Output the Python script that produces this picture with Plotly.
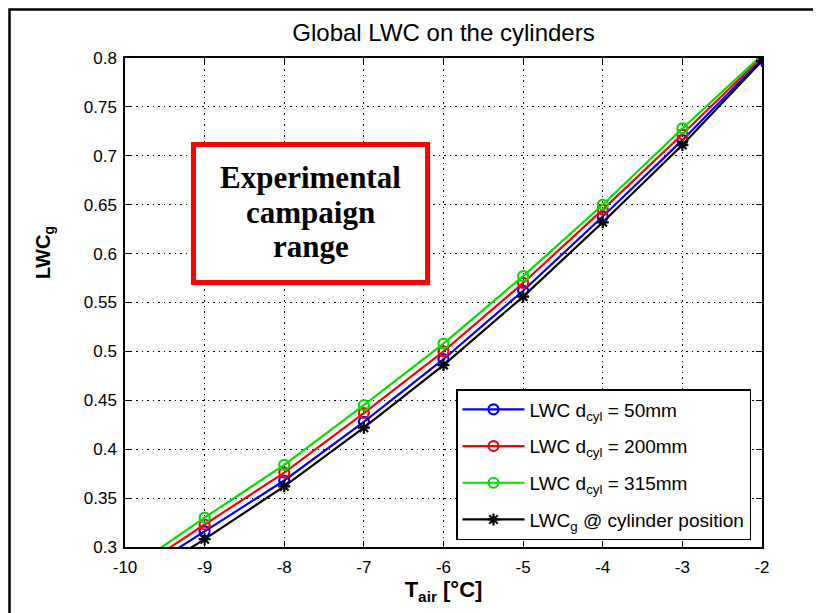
import plotly.graph_objects as go

T_air = [-10, -9, -8, -7, -6, -5, -4, -3, -2]
x_tick_labels = ["-10", "-9", "-8", "-7", "-6", "-5", "-4", "-3", "-2"]
lwc_50 = [0.264, 0.316, 0.368, 0.428, 0.492, 0.562, 0.638, 0.716, 0.799]
lwc_200 = [0.269, 0.323, 0.376, 0.437, 0.500, 0.570, 0.645, 0.722, 0.801]
lwc_315 = [0.274, 0.330, 0.384, 0.445, 0.508, 0.577, 0.650, 0.728, 0.803]
lwc_g = [0.257, 0.308, 0.362, 0.422, 0.486, 0.556, 0.632, 0.711, 0.797]

series = [
    ("LWC d<sub>cyl</sub> = 50mm", lwc_50, "#0000ff", "circle-open"),
    ("LWC d<sub>cyl</sub> = 200mm", lwc_200, "#ff0000", "circle-open"),
    ("LWC d<sub>cyl</sub> = 315mm", lwc_315, "#00e000", "circle-open"),
    ("LWC<sub>g</sub> @ cylinder position", lwc_g, "#000000", "asterisk-open"),
]

box_lines = ["Experimental", "campaign", "range"]

fig = go.Figure()
for i, (name, vals, col, sym) in enumerate(series):
    fig.add_trace(go.Scatter(
        x=T_air, y=vals, name=name, mode="lines+markers", legendgroup=f"g{i}",
        line=dict(color=col, width=2.2),
        marker=dict(symbol=sym, size=10, color=col, line=dict(color=col, width=2.2)),
        cliponaxis=True,
    ))

L, R, T, B = 117, 67, 50, 74
W, H = 821, 613
pw, ph = W - L - R, H - T - B

FONT = "Liberation Sans, Arial"
axis_common = dict(
    showgrid=True, gridcolor="black", griddash="1.5px,4px", gridwidth=1,
    showline=True, linecolor="black", linewidth=1.5, mirror="ticks",
    ticks="inside", ticklen=6, tickcolor="black",
    tickfont=dict(family=FONT, size=17, color="black"),
    zeroline=False,
)

fig.update_layout(
    width=W, height=H,
    margin=dict(l=L, r=R, t=T, b=B),
    paper_bgcolor="white", plot_bgcolor="white",
    title=dict(text="Global LWC on the cylinders", x=(L + pw / 2) / W, xanchor="center",
               y=1 - 25 / H, yanchor="middle",
               font=dict(family=FONT, size=24, color="black")),
    xaxis=dict(range=[-10, -2], tickmode="array", tickvals=T_air, ticktext=x_tick_labels,
               ticklabelstandoff=4, **axis_common,
               title=dict(text="<b>T<sub>air</sub> [°C]</b>", standoff=4,
                          font=dict(family=FONT, size=22, color="black"))),
    yaxis=dict(range=[0.3, 0.8], dtick=0.05, ticklabelstandoff=3, **axis_common),
    legend=dict(x=(743 - L) / pw, xanchor="right", y=(H - B - 532) / ph, yanchor="bottom",
                bgcolor="white", bordercolor="black", borderwidth=1.5,
                font=dict(family=FONT, size=19, color="black"),
                tracegroupgap=9, itemwidth=62),
    showlegend=True,
)

# y-axis title placed as in the reference (above the vertical centre)
fig.add_annotation(x=(36 - L) / pw, y=(H - B - 245) / ph, xref="paper", yref="paper",
                   showarrow=False, textangle=-90, xanchor="center", yanchor="middle",
                   text="<b>LWC<sub>g</sub></b>",
                   font=dict(family=FONT, size=20, color="black"))

# red box with annotation
fig.add_shape(type="rect", xref="x", yref="y", x0=-9.14, x1=-6.20, y0=0.5705, y1=0.7116,
              line=dict(color="#ff0000", width=5), fillcolor="white", layer="above")
for txt, yv in zip(box_lines, [0.678, 0.6425, 0.607]):
    fig.add_annotation(x=-7.67, y=yv, xref="x", yref="y", showarrow=False,
                       text=f"<b>{txt}</b>", yanchor="middle",
                       font=dict(family="Liberation Serif, Times New Roman", size=31, color="black"))

# outer figure border
fig.add_shape(type="rect", xref="paper", yref="paper",
              x0=-(L - 1.5) / pw, x1=(W - L - 1.5) / pw,
              y0=-(B - 1.5) / ph, y1=(H - B - 1.5) / ph,
              line=dict(color="black", width=2.5), layer="above")

fig.write_html("out.html")
